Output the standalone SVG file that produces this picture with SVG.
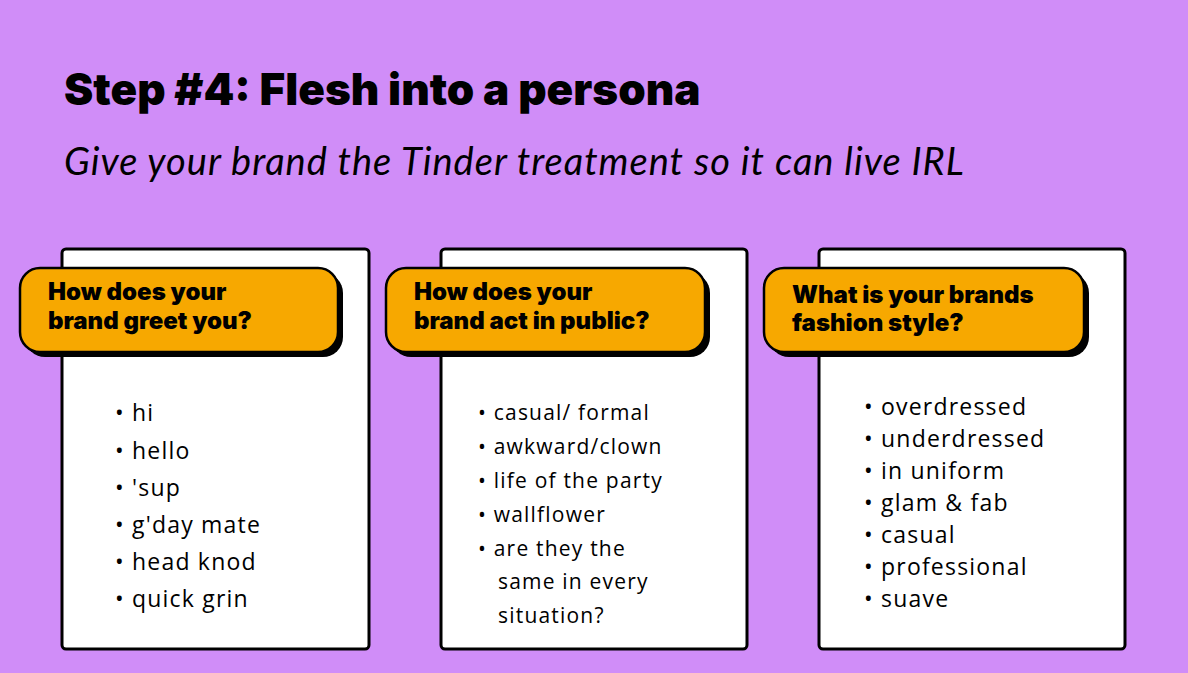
<svg xmlns="http://www.w3.org/2000/svg" width="1188" height="673" viewBox="0 0 1188 673">
<style>
.card{fill:#fff;stroke:#000;stroke-width:3}
.sh{fill:#000}
.pill{fill:#F7A800;stroke:#000;stroke-width:2.5}
.h{font-family:Inter,"Liberation Sans",sans-serif;font-weight:900;font-size:24px;fill:#000}
.li{font-family:"Open Sans","Liberation Sans",sans-serif;font-size:23px;letter-spacing:1.2px;fill:#000}
</style>
<rect width="1188" height="673" fill="#D08DF8"/>
<text x="64" y="105" font-family="Inter,'Liberation Sans',sans-serif" font-weight="900" font-size="44" fill="#000">Step #4: Flesh into a persona</text>
<text x="64" y="175" font-family="Lato,'Open Sans',sans-serif" font-style="italic" font-size="38" letter-spacing="1" fill="#000">Give your brand the Tinder treatment so it can live IRL</text>
<g id="card1">
<rect class="card" x="62" y="249" width="307" height="400" rx="4"/>
<rect class="sh" x="25" y="273" width="318" height="84" rx="20"/>
<rect class="pill" x="20" y="268" width="318" height="84" rx="20"/>
<text class="h" x="48" y="300">How does your</text>
<text class="h" x="48" y="329">brand greet you?</text>
<text class="li" x="115" y="421">• hi</text>
<text class="li" x="115" y="459">• hello</text>
<text class="li" x="115" y="496">• 'sup</text>
<text class="li" x="115" y="533">• g'day mate</text>
<text class="li" x="115" y="570">• head knod</text>
<text class="li" x="115" y="607">• quick grin</text>
</g>
<g id="card2">
<rect class="card" x="441" y="249" width="306" height="400" rx="4"/>
<rect class="sh" x="391" y="273" width="319" height="84" rx="20"/>
<rect class="pill" x="386" y="268" width="319" height="84" rx="20"/>
<text class="h" x="414" y="300">How does your</text>
<text class="h" x="414" y="329">brand act in public?</text>
<g class="li" style="font-size:21px">
<text x="478" y="420">• casual/ formal</text>
<text x="478" y="454">• awkward/clown</text>
<text x="478" y="488">• life of the party</text>
<text x="478" y="522">• wallflower</text>
<text x="478" y="556">• are they the</text>
<text x="498" y="589">same in every</text>
<text x="498" y="623">situation?</text>
</g>
</g>
<g id="card3">
<rect class="card" x="819" y="249" width="306" height="400" rx="4"/>
<rect class="sh" x="769" y="273" width="320" height="84" rx="20"/>
<rect class="pill" x="764" y="268" width="320" height="84" rx="20"/>
<text class="h" x="792" y="303">What is your brands</text>
<text class="h" x="792" y="331">fashion style?</text>
<text class="li" x="864" y="415">• overdressed</text>
<text class="li" x="864" y="447">• underdressed</text>
<text class="li" x="864" y="479">• in uniform</text>
<text class="li" x="864" y="511">• glam &amp; fab</text>
<text class="li" x="864" y="543">• casual</text>
<text class="li" x="864" y="575">• professional</text>
<text class="li" x="864" y="607">• suave</text>
</g>
</svg>
